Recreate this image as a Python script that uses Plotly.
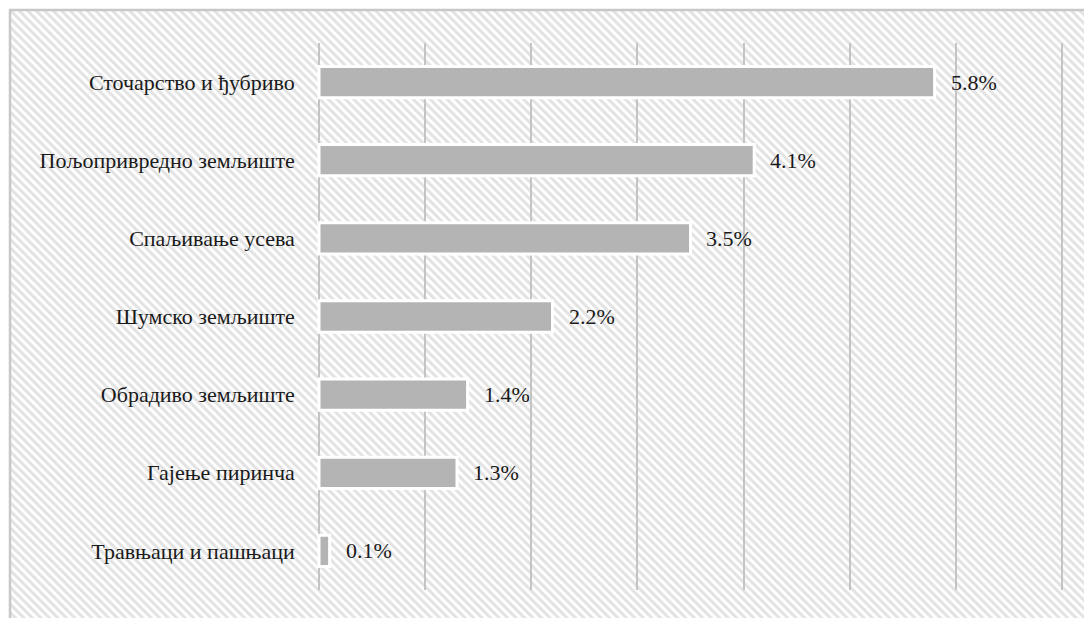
import plotly.graph_objects as go

categories = [
    "Сточарство и ђубриво",
    "Пољопривредно земљиште",
    "Спаљивање усева",
    "Шумско земљиште",
    "Обрадиво земљиште",
    "Гајење пиринча",
    "Травњаци и пашњаци",
]
values = [5.8, 4.1, 3.5, 2.2, 1.4, 1.3, 0.1]
value_labels = ["5.8%", "4.1%", "3.5%", "2.2%", "1.4%", "1.3%", "0.1%"]

W, H = 1084, 618
FONT = "Times New Roman"

X0_PX, X7_PX = 319, 1062
unit = (X7_PX - X0_PX) / 7
pad = 0.03

fig = go.Figure()

# hatched background panel with border (decoration on full-paper helper axes)
fig.add_trace(go.Scatter(
    x=[10, 1200, 1200, 10, 10], y=[-50, -50, H - 10, H - 10, -50],
    xaxis="x", yaxis="y", mode="lines", fill="toself",
    fillcolor="white",
    fillpattern=dict(shape="\\", fgcolor="#c6c6c6", bgcolor="white", size=6, solidity=0.5),
    line=dict(color="#c8c8c8", width=2.5),
    hoverinfo="skip", showlegend=False,
))

fig.add_trace(go.Bar(
    x=values, y=categories, orientation="h",
    xaxis="x2", yaxis="y2",
    marker=dict(color="#b4b4b4", line=dict(color="white", width=3)),
    showlegend=False,
))

for v, c, t in zip(values, categories, value_labels):
    fig.add_annotation(
        x=v, y=c, xref="x2", yref="y2", text=t, showarrow=False,
        xanchor="left", xshift=14, font=dict(family=FONT, size=22, color="#1a1a1a"),
    )

fig.update_layout(
    width=W, height=H,
    margin=dict(l=0, r=0, t=0, b=0),
    paper_bgcolor="white",
    plot_bgcolor="rgba(0,0,0,0)",
    bargap=0.6,
    xaxis=dict(domain=[0, 1], range=[0, W], visible=False, fixedrange=True),
    yaxis=dict(domain=[0, 1], range=[0, H], visible=False, fixedrange=True),
    xaxis2=dict(
        domain=[(X0_PX - pad * unit) / W, (X7_PX + pad * unit) / W],
        range=[-pad, 7 + pad], tick0=0, dtick=1, anchor="y2",
        showgrid=True, gridcolor="#c4c4c4", gridwidth=2,
        zeroline=False, showticklabels=False, showline=False, ticks="",
    ),
    yaxis2=dict(
        domain=[(H - 590) / H, (H - 43) / H], anchor="x2",
        type="category", autorange="reversed",
        showgrid=False, zeroline=False, showline=False, ticks="",
        ticklabelstandoff=20,
        tickfont=dict(family=FONT, size=22, color="#1a1a1a"),
    ),
)

fig.write_html("out.html")
